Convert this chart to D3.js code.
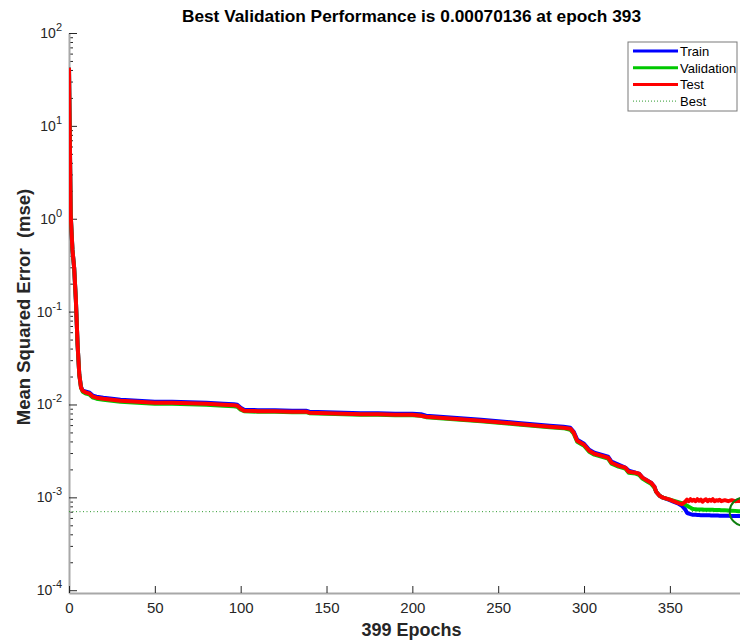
<!DOCTYPE html>
<html>
<head>
<meta charset="utf-8">
<script src="https://cdn.jsdelivr.net/npm/d3@7"></script>
<style>
  body { margin: 0; background: #fff; }
  text { font-family: Arial, "Liberation Sans", Helvetica, sans-serif; }
</style>
</head>
<body>
<script>
// values
const epochs = [0,1,2,3,4,5,6,7,8,10,12,14,16,20,25,30,40,50,60,70,80,90,96,98,100,102,
  110,120,130,138,140,150,160,170,180,190,200,205,208,220,240,260,280,288,292,294,296,298,300,
  303,306,310,314,316,320,324,326,330,332,334,337,339,341,342,344,346,350,352,355,357,
  359,360,361,362,363,364,365,366,367,368,369,370,371,372,373,374,375,376,377,378,379,380,
  382,384,386,388,390,392,393,394,396,399];

const trainMse = [42.3,1.105,0.464,0.297,0.134,0.044,0.0209,0.01554,0.01407,0.01373,0.0134,0.01244,0.01213,
  0.01183,0.01154,0.01126,0.01099,0.01072,0.01072,0.01059,0.01045,0.01019,0.01007,0.00994,0.00923,0.00879,
  0.00868,0.00868,0.00857,0.00857,0.00836,0.00826,0.00816,0.00806,0.00806,0.00796,0.00796,
  0.00786,0.00757,0.0073,0.00686,0.00637,0.00591,0.00577,0.00562,0.00509,0.00418,0.00397,0.00378,
  0.00326,0.00303,0.00288,0.00274,0.00242,0.00225,0.00209,0.00194,0.00184,0.0018,0.00163,0.00151,0.00144,
  0.0013,0.00115,0.00104,0.000992,0.000932,0.000899,0.000855,0.000814,
  0.000737,0.00068,0.000667,0.000659,0.000651,0.000651,0.000649,0.000647,0.000645,0.000643,0.000643,
  0.000641,0.000641,0.00064,0.00064,0.000639,0.000638,0.000637,0.000637,0.000636,0.000635,0.000635,
  0.000634,0.000632,0.000631,0.00063,0.000629,0.000628,0.000627,0.000627,0.000626,0.000625];

const valMse = [42.3,1.105,0.464,0.297,0.134,0.044,0.0209,0.01516,0.01373,0.01307,0.01275,0.01183,0.01154,
  0.01126,0.01099,0.01072,0.01045,0.01019,0.01019,0.01007,0.00994,0.0097,0.00958,0.00946,0.00879,0.00847,
  0.00836,0.00836,0.00826,0.00826,0.00806,0.00796,0.00786,0.00776,0.00776,0.00767,0.00767,
  0.00757,0.0073,0.00703,0.00661,0.00614,0.00569,0.00556,0.00535,0.00485,0.00397,0.00378,0.0036,
  0.0031,0.00288,0.00274,0.00261,0.0023,0.00214,0.00204,0.00184,0.0018,0.00175,0.00159,0.00147,0.0014,
  0.00127,0.00115,0.00104,0.000992,0.000944,0.000921,0.000887,0.000866,
  0.000834,0.000814,0.000794,0.000775,0.000755,0.00075,0.000746,0.000742,0.000741,0.00074,0.000739,
  0.000737,0.000737,0.000736,0.000735,0.000734,0.000733,0.000732,0.000731,0.00073,0.000729,0.000728,
  0.000726,0.000723,0.000719,0.000715,0.00071,0.000704,0.00070136,0.000702,0.000703,0.000705];

const testMse = [42.3,1.105,0.464,0.297,0.134,0.044,0.0209,0.01516,0.01407,0.0134,0.01307,0.01213,0.01183,
  0.01154,0.01126,0.01099,0.01072,0.01045,0.01045,0.01032,0.01019,0.00994,0.00982,0.0097,0.00901,0.00857,
  0.00847,0.00847,0.00836,0.00836,0.00816,0.00806,0.00796,0.00786,0.00786,0.00776,0.00776,
  0.00757,0.00739,0.00712,0.00669,0.00621,0.00577,0.00562,0.00549,0.00497,0.00407,0.00388,0.00369,
  0.00318,0.00295,0.00281,0.00267,0.00236,0.00219,0.00209,0.00189,0.00184,0.0018,0.00163,0.00151,0.00144,
  0.0013,0.00115,0.00104,0.000992,0.000944,0.00091,0.000866,0.000845,
  0.000899,0.000944,0.00091,0.000955,0.000921,0.000944,0.00091,0.000955,0.000921,0.000944,0.000899,
  0.000932,0.000955,0.00091,0.000944,0.000921,0.000955,0.00091,0.000932,0.000921,0.000944,0.00091,
  0.000932,0.00091,0.000932,0.00091,0.000921,0.00091,0.000921,0.000932,0.00091,0.000921];

const xTicks = [0, 50, 100, 150, 200, 250, 300, 350];
const yPowers = [-4, -3, -2, -1, 0, 1, 2];
const seriesNames = ["Train", "Validation", "Test", "Best"];
const seriesColors = ["#0000ff", "#00c800", "#ff0000", "#2e9a2e"];
const maxEpoch = 399;
const bestEpoch = 393;
const bestPerf = 0.00070136;

var margin = {top: 33, left: 69},
    width = 685,
    height = 560;

const svg = d3.select("body")
  .append("svg")
    .attr("width", 740)
    .attr("height", 641);

svg.append("defs").append("clipPath")
    .attr("id", "plotclip")
  .append("rect")
    .attr("x", 0).attr("y", 0)
    .attr("width", width).attr("height", height);

const g = svg.append("g")
    .attr("transform", `translate(${margin.left},${margin.top})`);

const x = d3.scaleLinear()
  .domain([0, maxEpoch])
  .range([0, width]);

const y = d3.scaleLog()
  .domain([Math.pow(10, -4.03), 100])
  .range([height, 0]);

// minor y ticks
g.append("g")
  .call(d3.axisLeft(y)
    .tickValues(y.ticks().filter(v => Math.abs(Math.log10(v) - Math.round(Math.log10(v))) > 1e-6))
    .tickSize(-4).tickSizeOuter(0).tickFormat(""))
  .call(a => a.select(".domain").remove())
  .selectAll("line").attr("stroke", "#262626");

// major y ticks
const yAxis = g.append("g")
  .call(d3.axisLeft(y)
    .tickValues(yPowers.map(p => Math.pow(10, p)))
    .tickSize(-8).tickSizeOuter(0).tickFormat(""));
yAxis.selectAll("line").attr("stroke", "#262626");
yAxis.select(".domain").attr("stroke", "#a8a8a8").attr("stroke-width", 2);

const yLab = g.append("g").selectAll("text")
  .data(yPowers)
  .join("text")
    .attr("x", -7)
    .attr("y", p => y(Math.pow(10, p)) + 5)
    .attr("text-anchor", "end")
    .attr("fill", "#262626")
    .style("font-size", "14px");
yLab.append("tspan").text("10");
yLab.append("tspan")
    .attr("dy", -7)
    .style("font-size", "11px")
    .text(p => p);

// x axis
const xAxis = g.append("g")
  .attr("transform", `translate(0,${height})`)
  .call(d3.axisBottom(x)
    .tickValues(xTicks)
    .tickSize(-7).tickSizeOuter(0).tickPadding(9));
xAxis.selectAll("line").attr("stroke", "#262626");
xAxis.select(".domain").attr("stroke", "#a8a8a8").attr("stroke-width", 2);
xAxis.selectAll("text")
  .attr("fill", "#262626")
  .style("font-size", "15px")
  .style("font-family", "Arial, 'Liberation Sans', sans-serif");

const plot = g.append("g").attr("clip-path", "url(#plotclip)");

// best lines
plot.append("line")
  .attr("x1", 0).attr("x2", width)
  .attr("y1", y(bestPerf)).attr("y2", y(bestPerf))
  .attr("stroke", seriesColors[3])
  .attr("stroke-width", 1)
  .attr("stroke-dasharray", "1,2.5");
plot.append("line")
  .attr("x1", x(bestEpoch)).attr("x2", x(bestEpoch))
  .attr("y1", 0).attr("y2", height)
  .attr("stroke", seriesColors[3])
  .attr("stroke-width", 1)
  .attr("stroke-dasharray", "1,2.5");

const series = [trainMse, valMse, testMse];
const line = d3.line()
  .x(d => x(d[0]))
  .y(d => y(d[1]));

series.forEach((vals, i) => {
  plot.append("path")
    .datum(epochs.map((e, k) => [e, vals[k]]))
    .attr("d", line)
    .attr("fill", "none")
    .attr("stroke", seriesColors[i])
    .attr("stroke-width", 4)
    .attr("stroke-linejoin", "round");
});

plot.append("circle")
  .attr("cx", x(bestEpoch))
  .attr("cy", y(bestPerf))
  .attr("r", 14)
  .attr("fill", "none")
  .attr("stroke", "#0f7f0f")
  .attr("stroke-width", 2);

// titles
svg.append("text")
  .attr("x", margin.left + width / 2)
  .attr("y", 22)
  .attr("text-anchor", "middle")
  .style("font-size", "17.3px")
  .style("font-weight", "bold")
  .text("Best Validation Performance is " + bestPerf + " at epoch " + bestEpoch);

svg.append("text")
  .attr("x", margin.left + width / 2)
  .attr("y", 636)
  .attr("text-anchor", "middle")
  .style("font-size", "18px")
  .style("font-weight", "bold")
  .attr("fill", "#262626")
  .text(maxEpoch + " Epochs");

svg.append("text")
  .attr("transform", `translate(30,${margin.top + height / 2 - 6}) rotate(-90)`)
  .attr("text-anchor", "middle")
  .style("font-size", "18.5px")
  .style("font-weight", "bold")
  .style("white-space", "pre")
  .attr("fill", "#262626")
  .text("Mean Squared Error  (mse)");

// legend
const legend = svg.append("g").attr("transform", "translate(628,42)");
legend.append("rect")
  .attr("width", 109).attr("height", 69)
  .attr("fill", "#fff")
  .attr("stroke", "#7a7a7a")
  .attr("stroke-width", 1);

const item = legend.selectAll("g.item")
  .data(seriesNames)
  .join("g")
    .attr("class", "item")
    .attr("transform", (d, i) => `translate(0,${9 + i * 16.7})`);
item.append("line")
  .attr("x1", 5).attr("x2", 50)
  .attr("stroke", (d, i) => seriesColors[i])
  .attr("stroke-width", (d, i) => i < 3 ? 3 : 1)
  .attr("stroke-dasharray", (d, i) => i < 3 ? null : "1,2");
item.append("text")
  .attr("x", 52)
  .attr("y", 5)
  .style("font-size", "13px")
  .text(d => d);
</script>
</body>
</html>
